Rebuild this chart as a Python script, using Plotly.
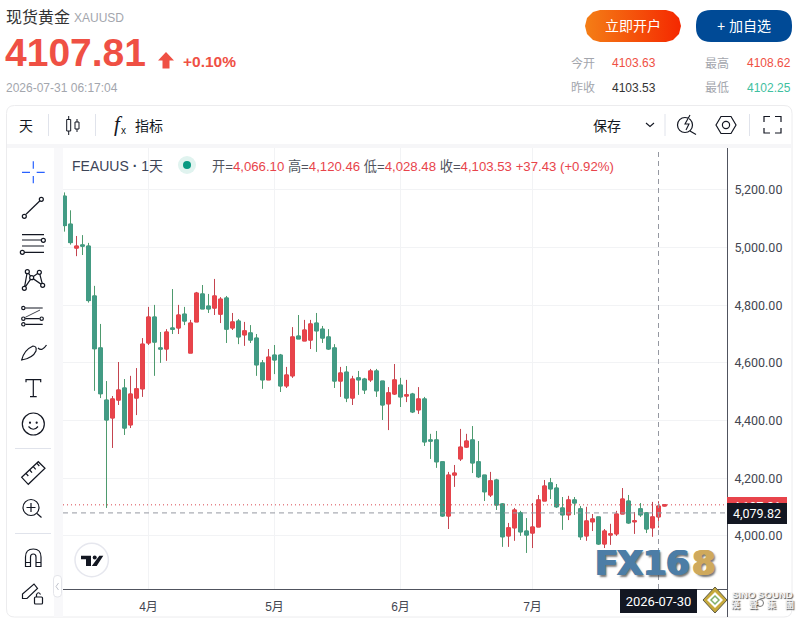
#!/usr/bin/env python
# -*- coding: utf-8 -*-
"""
Spot gold quote page with daily candles
"""

import plotly.graph_objects as go

WIDTH = 801
HEIGHT = 621

TEXT_FONT = 'Liberation Sans, Noto Sans CJK SC'
SCALE_FONT = 'Roboto, Noto Sans CJK SC'

dates = [
    '2026-03-12', '2026-03-13', '2026-03-16', '2026-03-17', '2026-03-18', '2026-03-19', '2026-03-20',
    '2026-03-23', '2026-03-24', '2026-03-25', '2026-03-26', '2026-03-27', '2026-03-30', '2026-03-31',
    '2026-04-01', '2026-04-02', '2026-04-06', '2026-04-07', '2026-04-08', '2026-04-09', '2026-04-10',
    '2026-04-13', '2026-04-14', '2026-04-15', '2026-04-16', '2026-04-17', '2026-04-20', '2026-04-21',
    '2026-04-22', '2026-04-23', '2026-04-24', '2026-04-27', '2026-04-28', '2026-04-29', '2026-04-30',
    '2026-05-01', '2026-05-04', '2026-05-05', '2026-05-06', '2026-05-07', '2026-05-08', '2026-05-11',
    '2026-05-12', '2026-05-13', '2026-05-14', '2026-05-15', '2026-05-18', '2026-05-19', '2026-05-20',
    '2026-05-21', '2026-05-22', '2026-05-25', '2026-05-26', '2026-05-27', '2026-05-28', '2026-05-29',
    '2026-06-01', '2026-06-02', '2026-06-03', '2026-06-04', '2026-06-05', '2026-06-08', '2026-06-09',
    '2026-06-10', '2026-06-11', '2026-06-12', '2026-06-15', '2026-06-16', '2026-06-17', '2026-06-18',
    '2026-06-19', '2026-06-22', '2026-06-23', '2026-06-24', '2026-06-25', '2026-06-26', '2026-06-29',
    '2026-06-30', '2026-07-01', '2026-07-02', '2026-07-03', '2026-07-06', '2026-07-07', '2026-07-08',
    '2026-07-09', '2026-07-10', '2026-07-13', '2026-07-14', '2026-07-15', '2026-07-16', '2026-07-17',
    '2026-07-20', '2026-07-21', '2026-07-22', '2026-07-23', '2026-07-24', '2026-07-27', '2026-07-28',
    '2026-07-29', '2026-07-30', '2026-07-31']

opens = [5178, 5081, 4998, 5009, 5005, 4832, 4652, 4471, 4409, 4471,
         4513, 4385, 4478, 4510, 4669, 4759, 4652, 4648, 4721, 4721,
         4769, 4634, 4742, 4839, 4797, 4790, 4769, 4825, 4721, 4745,
         4697, 4704, 4686, 4600, 4541, 4627, 4627, 4520, 4555, 4693,
         4676, 4679, 4738, 4717, 4690, 4652, 4537, 4568, 4478, 4548,
         4544, 4541, 4572, 4537, 4458, 4492, 4523, 4485, 4492, 4437,
         4475, 4333, 4333, 4257, 4069, 4211, 4267, 4308, 4333, 4257,
         4211, 4142, 4194, 4111, 4000, 4028, 4080, 4017, 4010, 4031,
         4121, 4184, 4166, 4097, 4073, 4125, 4094, 4000, 4049, 4066,
         3972, 4003, 4007, 4076, 4121, 4049, 4094, 4080, 4028, 4066.10,
         4103.63]
highs = [5191, 5129, 5040, 5043, 5016, 4867, 4735, 4537, 4485, 4603,
         4544, 4555, 4582, 4686, 4794, 4801, 4707, 4717, 4856, 4801,
         4794, 4749, 4846, 4870, 4839, 4891, 4828, 4832, 4773, 4752,
         4742, 4731, 4700, 4610, 4648, 4662, 4631, 4586, 4724, 4766,
         4749, 4749, 4773, 4728, 4717, 4665, 4586, 4589, 4555, 4572,
         4548, 4579, 4579, 4537, 4516, 4596, 4548, 4541, 4496, 4516,
         4482, 4354, 4364, 4257, 4222, 4246, 4371, 4354, 4381, 4329,
         4211, 4222, 4198, 4114, 4045, 4097, 4087, 4062, 4114, 4142,
         4194, 4201, 4180, 4135, 4139, 4135, 4104, 4101, 4076, 4066,
         4024, 4042, 4087, 4166, 4142, 4083, 4114, 4083, 4118, 4120.46,
         4108.62]
lows = [5055, 5010, 4970, 4974, 4809, 4503, 4478, 4097, 4305, 4454,
        4350, 4374, 4419, 4482, 4662, 4555, 4600, 4607, 4700, 4700,
        4731, 4634, 4742, 4787, 4773, 4766, 4738, 4669, 4714, 4665,
        4659, 4669, 4555, 4510, 4541, 4561, 4499, 4513, 4548, 4683,
        4676, 4648, 4638, 4669, 4645, 4513, 4482, 4464, 4454, 4489,
        4492, 4534, 4482, 4402, 4367, 4489, 4447, 4464, 4426, 4423,
        4312, 4267, 4236, 4066, 4024, 4170, 4260, 4305, 4218, 4201,
        4121, 4135, 4090, 3962, 3962, 3983, 4000, 3941, 3958, 4031,
        4121, 4128, 4097, 4021, 4055, 4073, 3986, 3983, 4017, 3969,
        3958, 3969, 4000, 4076, 4042, 4007, 4066, 4010, 3997, 4028.48,
        4102.25]
closes = [5076, 5017, 5005, 5005, 4816, 4649, 4493, 4402, 4475, 4506,
          4374, 4492, 4510, 4665, 4759, 4672, 4648, 4707, 4717, 4766,
          4745, 4738, 4842, 4787, 4787, 4832, 4821, 4717, 4742, 4690,
          4711, 4679, 4593, 4541, 4620, 4610, 4520, 4558, 4690, 4683,
          4714, 4735, 4711, 4686, 4648, 4537, 4565, 4478, 4544, 4541,
          4506, 4572, 4503, 4454, 4496, 4541, 4482, 4489, 4430, 4475,
          4326, 4329, 4257, 4069, 4211, 4218, 4308, 4329, 4253, 4205,
          4153, 4191, 4107, 3997, 4028, 4090, 4014, 4003, 4031, 4125,
          4173, 4163, 4101, 4073, 4125, 4114, 3997, 4052, 4059, 3972,
          4017, 4007, 4076, 4128, 4045, 4052, 4073, 4024, 4066, 4103.53,
          4107.81]

month_ticks = ['2026-04-01', '2026-05-01', '2026-06-01', '2026-07-01']
month_labels = ['4月', '5月', '6月', '7月']
price_ticks = [4000, 4200, 4400, 4600, 4800, 5000, 5200]

LAST_PRICE = 4107.81
CROSS_PRICE = 4079.82
CROSS_DATE = '2026-07-30'

UP_BODY = '#e8444b'
UP_WICK = '#c4444f'
DOWN_BODY = '#429b85'
DOWN_WICK = '#4e9a6e'
INK = '#131722'
GRID = '#f2f3f5'
SCALE_LINE = '#50535e'

shapes = []
notes = []


def add_note(text, x, y, size=12, color=INK, anchor='left', family=TEXT_FONT, shadow=None, **kw):
    font = dict(size=size, color=color, family=family)
    if shadow:
        font['shadow'] = shadow
    notes.append(dict(text=text, x=x, y=y, xref='x2', yref='y2', showarrow=False, xanchor=anchor, yanchor='middle',
                      borderpad=0, borderwidth=0, font=font, **kw))


def add_path(d, color=INK, width=1.2, fill=None, layer='above'):
    shapes.append(dict(type='path', path=d, xref='x2', yref='y2', layer=layer, fillcolor=fill,
                       line=dict(color=color, width=width)))


def add_circle(cx, cy, r, color=INK, width=1.2, fill=None, layer='above'):
    shapes.append(dict(type='circle', x0=cx-r, x1=cx+r, y0=cy-r, y1=cy+r, xref='x2', yref='y2', layer=layer,
                       fillcolor=fill, line=dict(color=color, width=width)))


def add_rect(x0, y0, x1, y1, color, layer='above'):
    shapes.append(dict(type='rect', x0=x0, x1=x1, y0=y0, y1=y1, xref='x2', yref='y2', layer=layer,
                       fillcolor=color, line=dict(width=0)))


def round_rect(x0, y0, x1, y1, r):
    return (f'M{x0+r},{y0} L{x1-r},{y0} Q{x1},{y0} {x1},{y0+r} L{x1},{y1-r} Q{x1},{y1} {x1-r},{y1} '
            f'L{x0+r},{y1} Q{x0},{y1} {x0},{y1-r} L{x0},{y0+r} Q{x0},{y0} {x0+r},{y0} Z')


def side(points, close=False):
    # Sidebar icons were measured on the 3x crop, so bring them back to page pixels
    d = ' '.join(('M' if n == 0 else 'L') + f'{x/3:.1f},{140+y/3:.1f}' for n, (x, y) in enumerate(points))
    return d + (' Z' if close else '')


def side_circle(x, y, r, **kw):
    add_circle(x/3, 140+y/3, r/3, **kw)


def page_header():
    add_note('现货黄金', 6, 17, size=16, color='#333333')
    add_note('XAUUSD', 74, 17.5, size=12, color='#a3a6ad')
    add_note('<b>4107.81</b>', 5, 52, size=39, color='#ef5044')
    add_path('M166,52 L174,60.5 L169.5,60.5 L169.5,68.5 L162.5,68.5 L162.5,60.5 L158,60.5 Z', color='#ef5044',
             width=0, fill='#ef5044')
    add_note('<b>+0.10%</b>', 183, 61, size=15.5, color='#ef5044')
    add_note('2026-07-31 06:17:04', 6, 87.5, size=12, color='#a3a6ad')

    add_path(round_rect(696, 10, 792, 42, 15), color='#004a96', width=0, fill='#004a96')
    add_note('立即开户', 633, 26, size=14, color='white', anchor='center')
    add_note('+ 加自选', 744, 26, size=14, color='white', anchor='center')

    for label, x, y in [('今开', 571, 63), ('昨收', 571, 87.5), ('最高', 705, 63), ('最低', 705, 87.5)]:
        add_note(label, x, y, size=12, color='#a3a6ad')
    add_note('4103.63', 612, 63, size=12, color='#ef5044')
    add_note('4103.53', 612, 87.5, size=12, color='#333333')
    add_note('4108.62', 747, 63, size=12, color='#ef5044')
    add_note('4102.25', 747, 87.5, size=12, color='#3fc0a0')


def toolbar():
    add_path(round_rect(6.5, 105.5, 792, 617, 8), color='#ececee', width=1, layer='below')
    add_rect(7, 144, 792, 148, '#f6f6f8', layer='below')
    add_rect(54, 148, 63, 617, '#f8f8fa', layer='below')

    for x in [48.5, 95.5, 665, 749.5]:
        add_path(f'M{x},114 L{x},136', color='#e0e3eb', width=1)

    add_note('天', 19, 126, size=14)
    add_path('M68.7,116 L68.7,135 M77,119 L77,132', width=1)
    add_path('M66.7,119.5 L70.7,119.5 L70.7,131 L66.7,131 Z M75,122 L79,122 L79,129 L75,129 Z', width=1, fill='white')
    add_note('<i>f</i>', 114, 124, size=21, family='Liberation Serif')
    add_note('x', 120.5, 130.5, size=10)
    add_note('指标', 135, 126, size=14)
    add_note('保存', 593, 126, size=14)
    add_path('M646,123 L650,126.5 L654,123', width=1.1)

    add_circle(685, 125, 7.5)
    add_path('M690,131 L696,134.5')
    add_path('M690,115 L685,124 L689,124 L686,130', width=1.1, fill='white')
    add_path('M716,125 L721,116.5 L731,116.5 L736,125 L731,133.5 L721,133.5 Z')
    add_circle(726, 125, 3.6)
    add_path('M764,122 L764,116.5 L770,116.5 M775,116.5 L781,116.5 L781,122 M781,128 L781,133 L775,133 '
             'M770,133 L764,133 L764,128')


def sidebar():
    # Crosshair
    add_path(side([(66, 97), (90, 97)]) + ' ' + side([(110, 97), (134, 97)]) + ' ' +
             side([(100, 64), (100, 86)]) + ' ' + side([(100, 108), (100, 130)]), color='#2962ff')
    # Trend line
    add_path(side([(78, 223), (119, 183)]))
    side_circle(73, 229, 6)
    side_circle(124, 178, 6)
    # Parallel lines
    add_path(side([(66, 284), (132, 284)]) + ' ' + side([(66, 300), (124, 300)]) + ' ' +
             side([(66, 318), (132, 318)]) + ' ' + side([(73, 337), (132, 337)]))
    side_circle(130, 301, 6)
    side_circle(67, 337, 6)
    # Pattern
    add_path(side([(73, 445), (82, 395), (95, 413), (118, 397), (128, 436), (95, 413), (73, 445)]))
    for x, y in [(73, 445), (82, 395), (95, 413), (118, 397), (128, 436)]:
        side_circle(x, y, 6, fill='white')
    # Fib channel
    add_path(side([(76, 504), (128, 504)]) + ' ' + side([(76, 536), (119, 536)]) + ' ' + side([(76, 553), (128, 553)]))
    add_path(side([(76, 532), (120, 510)]), width=0.8)
    for x, y in [(70, 504), (70, 536), (125, 536), (70, 553)]:
        side_circle(x, y, 5)
    # Brush
    add_path('M21.7,360 Q24,350 33,346 Q37,346 36,351 Q33,358 21.7,360 Z')
    add_path('M38,348 Q42,352 46.5,345')
    # Text
    add_path(side([(78, 727), (78, 719), (122, 719), (122, 727)]) + ' ' + side([(100, 719), (100, 770)]) + ' ' +
             side([(90, 770), (110, 770)]))
    # Emoji
    side_circle(100, 852, 33)
    side_circle(90, 848, 1.5, fill=INK)
    side_circle(110, 848, 1.5, fill=INK)
    add_path('M28.5,426.5 Q33.3,432 38,426.5')
    add_path('M15,533.5 L51,533.5', color='#e0e3eb')
    add_path('M15,448.5 L51,448.5', color='#e0e3eb')
    # Ruler
    add_path(side([(65, 1012), (115, 965), (135, 985), (85, 1033)], close=True))
    add_path(side([(78, 1000), (85, 1008)]) + ' ' + side([(89, 990), (96, 998)]) + ' ' +
             side([(100, 980), (107, 988)]) + ' ' + side([(111, 970), (118, 978)]))
    # Zoom
    add_circle(31, 507.5, 8)
    add_path('M26.5,507.5 L35.5,507.5 M31,503 L31,512 M37,513.5 L41.5,517.5')
    # Magnet
    add_path('M25.5,566.5 L25.5,557 Q25.5,549 33.3,549 Q41,549 41,557 L41,566.5 L36,566.5 L36,557 Q36,554 33.3,554 '
             'Q30.5,554 30.5,557 L30.5,566.5 Z M25.5,562.5 L30.5,562.5 M36,562.5 L41,562.5')
    # Drawing lock
    add_path('M22.5,598.5 L22.5,594 L34,584 L37.5,588.5 L27,598.5 Z')
    add_path(round_rect(34.5, 597, 42.5, 604, 1))
    add_path('M36.5,597 L36.5,594.5 Q38.5,591 40.5,594.5')
    # Collapse handle
    add_path(round_rect(53.5, 575.5, 61.5, 597, 3.5), color='#e4e5ea', width=1, fill='white')
    add_path('M58.5,583 L56,586.5 L58.5,590', color='#c0c3cc', width=1)


def chart_overlays():
    shapes.append(dict(type='line', xref='x domain', yref='y', x0=0, x1=1, y0=LAST_PRICE, y1=LAST_PRICE, layer='above',
                       line=dict(color='#d8474f', width=1, dash='1px 3px')))
    shapes.append(dict(type='line', xref='x domain', yref='y', x0=0, x1=1, y0=CROSS_PRICE, y1=CROSS_PRICE, layer='above',
                       line=dict(color='#9598a1', width=1, dash='5px 4px')))
    shapes.append(dict(type='line', xref='x', yref='y domain', x0=CROSS_DATE, x1=CROSS_DATE, y0=0, y1=1, layer='above',
                       line=dict(color='#9598a1', width=1, dash='5px 4px')))
    # The price scale line runs on below the time axis
    add_path('M727.5,589 L727.5,617', color=SCALE_LINE, width=1)

    add_note('FEAUUS <b>·</b> 1天', 72, 166, size=14, color='#3c4457')
    add_circle(187, 165, 9, color='#e0f3ef', width=0, fill='#e0f3ef')
    add_circle(187, 165, 4, color='#089981', width=0, fill='#089981')
    red = '<span style="color:%s">' % UP_BODY
    add_note(f'开={red}4,066.10</span> 高={red}4,120.46</span> 低={red}4,028.48</span> '
             f'收={red}4,103.53</span> {red}+37.43 (+0.92%)</span>', 212, 166, size=13.2, color='#50535e')

    # Badge
    add_circle(91.7, 560, 16.7, color='#e6e7ee', width=1.5, fill='white')
    add_path('M81,555.7 L91,555.7 L91,566 L86,566 L86,559.3 L81,559.3 Z '
             'M99.3,555.7 L103.3,555.7 L96.7,566 L91.8,566 Z', color=INK, width=0, fill=INK)
    add_circle(94.7, 557.6, 2, color=INK, width=0, fill=INK)

    # Price and date tags, the dark ones cover the red one
    add_note('4,107.81', 757, 506, size=12.5, color='white', anchor='center', family=SCALE_FONT, bgcolor=UP_BODY,
             width=60, height=18)
    add_note('4,079.82', 757, 513.5, size=12.5, color='white', anchor='center', family=SCALE_FONT, bgcolor=INK,
             width=60, height=21)
    add_note(CROSS_DATE, 658.5, 601, size=13, color='white', anchor='center', family=SCALE_FONT, bgcolor=INK,
             width=77, height=24)


def watermarks():
    for char, x, color in [('F', 595, '#4c7da6'), ('X', 617, '#4c7da6'), ('1', 643, '#4c7da6'), ('6', 666, '#4c7da6'),
                           ('8', 692, '#cfa95c')]:
        fat = f'1px 0 0 {color}, -1px 0 0 {color}, 2px 2px 2px rgba(60,60,60,0.7)'
        add_note(f'<b>{char}</b>', x, 562.5, size=34, color=color, family='DejaVu Sans', shadow=fat)
    # Diamond
    add_path('M715,587 L727,600 L715,613 L703,600 Z', color='#5c5a46', width=1, fill='#c6a93c')
    add_path('M715,592 L723,600 L715,608 L707,600 Z', color='white', width=0, fill='white')
    add_path('M715,596 L719,600 L715,604 L711,600 Z', color='#7fb069', width=1.5, fill='white')
    soft = '1px 1px 1px rgba(40,40,40,0.8)'
    add_note('<b>SINO SOUND</b>', 762.5, 594.5, size=9.6, color='#f4f4f4', anchor='center', shadow=soft)
    add_circle(760, 603, 3.5, color='#777777', width=1)
    add_note('<b>漢\u3000聲\u3000集\u3000團</b>', 762, 604, size=9, color='#f0f0f0', anchor='center', shadow=soft)


def pill_trace():
    # Orange button, a filled outline so it can carry the gradient
    xs = [600, 666, 673, 679, 681, 679, 673, 666, 600, 593, 587, 585, 587, 593, 600]
    ys = [10, 10, 12, 18, 26, 34, 40, 42, 42, 40, 34, 26, 18, 12, 10]
    return go.Scatter(x=xs, y=ys, xaxis='x2', yaxis='y2', mode='lines', line=dict(width=0), fill='toself',
                      fillgradient=dict(type='horizontal', colorscale=[[0, '#f47e16'], [1, '#f52800']]),
                      hoverinfo='skip', showlegend=False)


page_header()
toolbar()
sidebar()
chart_overlays()
watermarks()

# Wicks first, then the bodies with their own outline colour on top
wicks = go.Candlestick(x=dates, open=opens, high=highs, low=lows, close=closes, whiskerwidth=0,
                       increasing=dict(line=dict(color=UP_WICK, width=1), fillcolor=UP_BODY),
                       decreasing=dict(line=dict(color=DOWN_WICK, width=1), fillcolor=DOWN_BODY),
                       showlegend=False, hoverinfo='skip')
bodies = go.Candlestick(x=dates, open=opens, close=closes,
                        high=[max(oo, cc) for oo, cc in zip(opens, closes)],
                        low=[min(oo, cc) for oo, cc in zip(opens, closes)],
                        whiskerwidth=0,
                        increasing=dict(line=dict(color=UP_BODY, width=1), fillcolor=UP_BODY),
                        decreasing=dict(line=dict(color=DOWN_BODY, width=1), fillcolor=DOWN_BODY),
                        showlegend=False)

fig = go.Figure(data=[wicks, bodies, pill_trace()])
fig.update_layout(width=WIDTH, height=HEIGHT, autosize=False,
                  margin={'l': 0, 'r': 0, 't': 0, 'b': 0},
                  paper_bgcolor='white', plot_bgcolor='rgba(0,0,0,0)',
                  boxgap=0.1, showlegend=False, shapes=shapes, annotations=notes,
                  xaxis={'domain': [63/WIDTH, 727/WIDTH], 'type': 'category', 'categoryorder': 'array',
                         'categoryarray': dates, 'range': [-0.25, 110.417], 'rangeslider': {'visible': False},
                         'tickmode': 'array', 'tickvals': month_ticks, 'ticktext': month_labels,
                         'tickfont': {'family': TEXT_FONT, 'size': 12, 'color': '#434651'},
                         'showgrid': True, 'gridcolor': GRID, 'gridwidth': 1, 'zeroline': False,
                         'ticks': 'outside', 'ticklen': 7, 'tickcolor': 'rgba(0,0,0,0)',
                         'showline': True, 'linecolor': SCALE_LINE, 'linewidth': 1},
                  yaxis={'domain': [1-589/HEIGHT, 1-148/HEIGHT], 'side': 'right', 'range': [3816, 5345],
                         'tickmode': 'array', 'tickvals': price_ticks, 'tickformat': ',.2f',
                         'tickfont': {'family': SCALE_FONT, 'size': 12.5, 'color': '#434651'},
                         'showgrid': True, 'gridcolor': GRID, 'gridwidth': 1, 'zeroline': False,
                         'ticks': 'outside', 'ticklen': 4, 'tickcolor': 'rgba(0,0,0,0)',
                         'showline': True, 'linecolor': SCALE_LINE, 'linewidth': 1},
                  xaxis2={'domain': [0, 1], 'range': [0, WIDTH], 'visible': False, 'fixedrange': True, 'anchor': 'y2'},
                  yaxis2={'domain': [0, 1], 'range': [HEIGHT, 0], 'visible': False, 'fixedrange': True, 'anchor': 'x2'})

fig.write_html('out.html', config={'displayModeBar': False},
               post_script="document.body.style.margin='0';")
